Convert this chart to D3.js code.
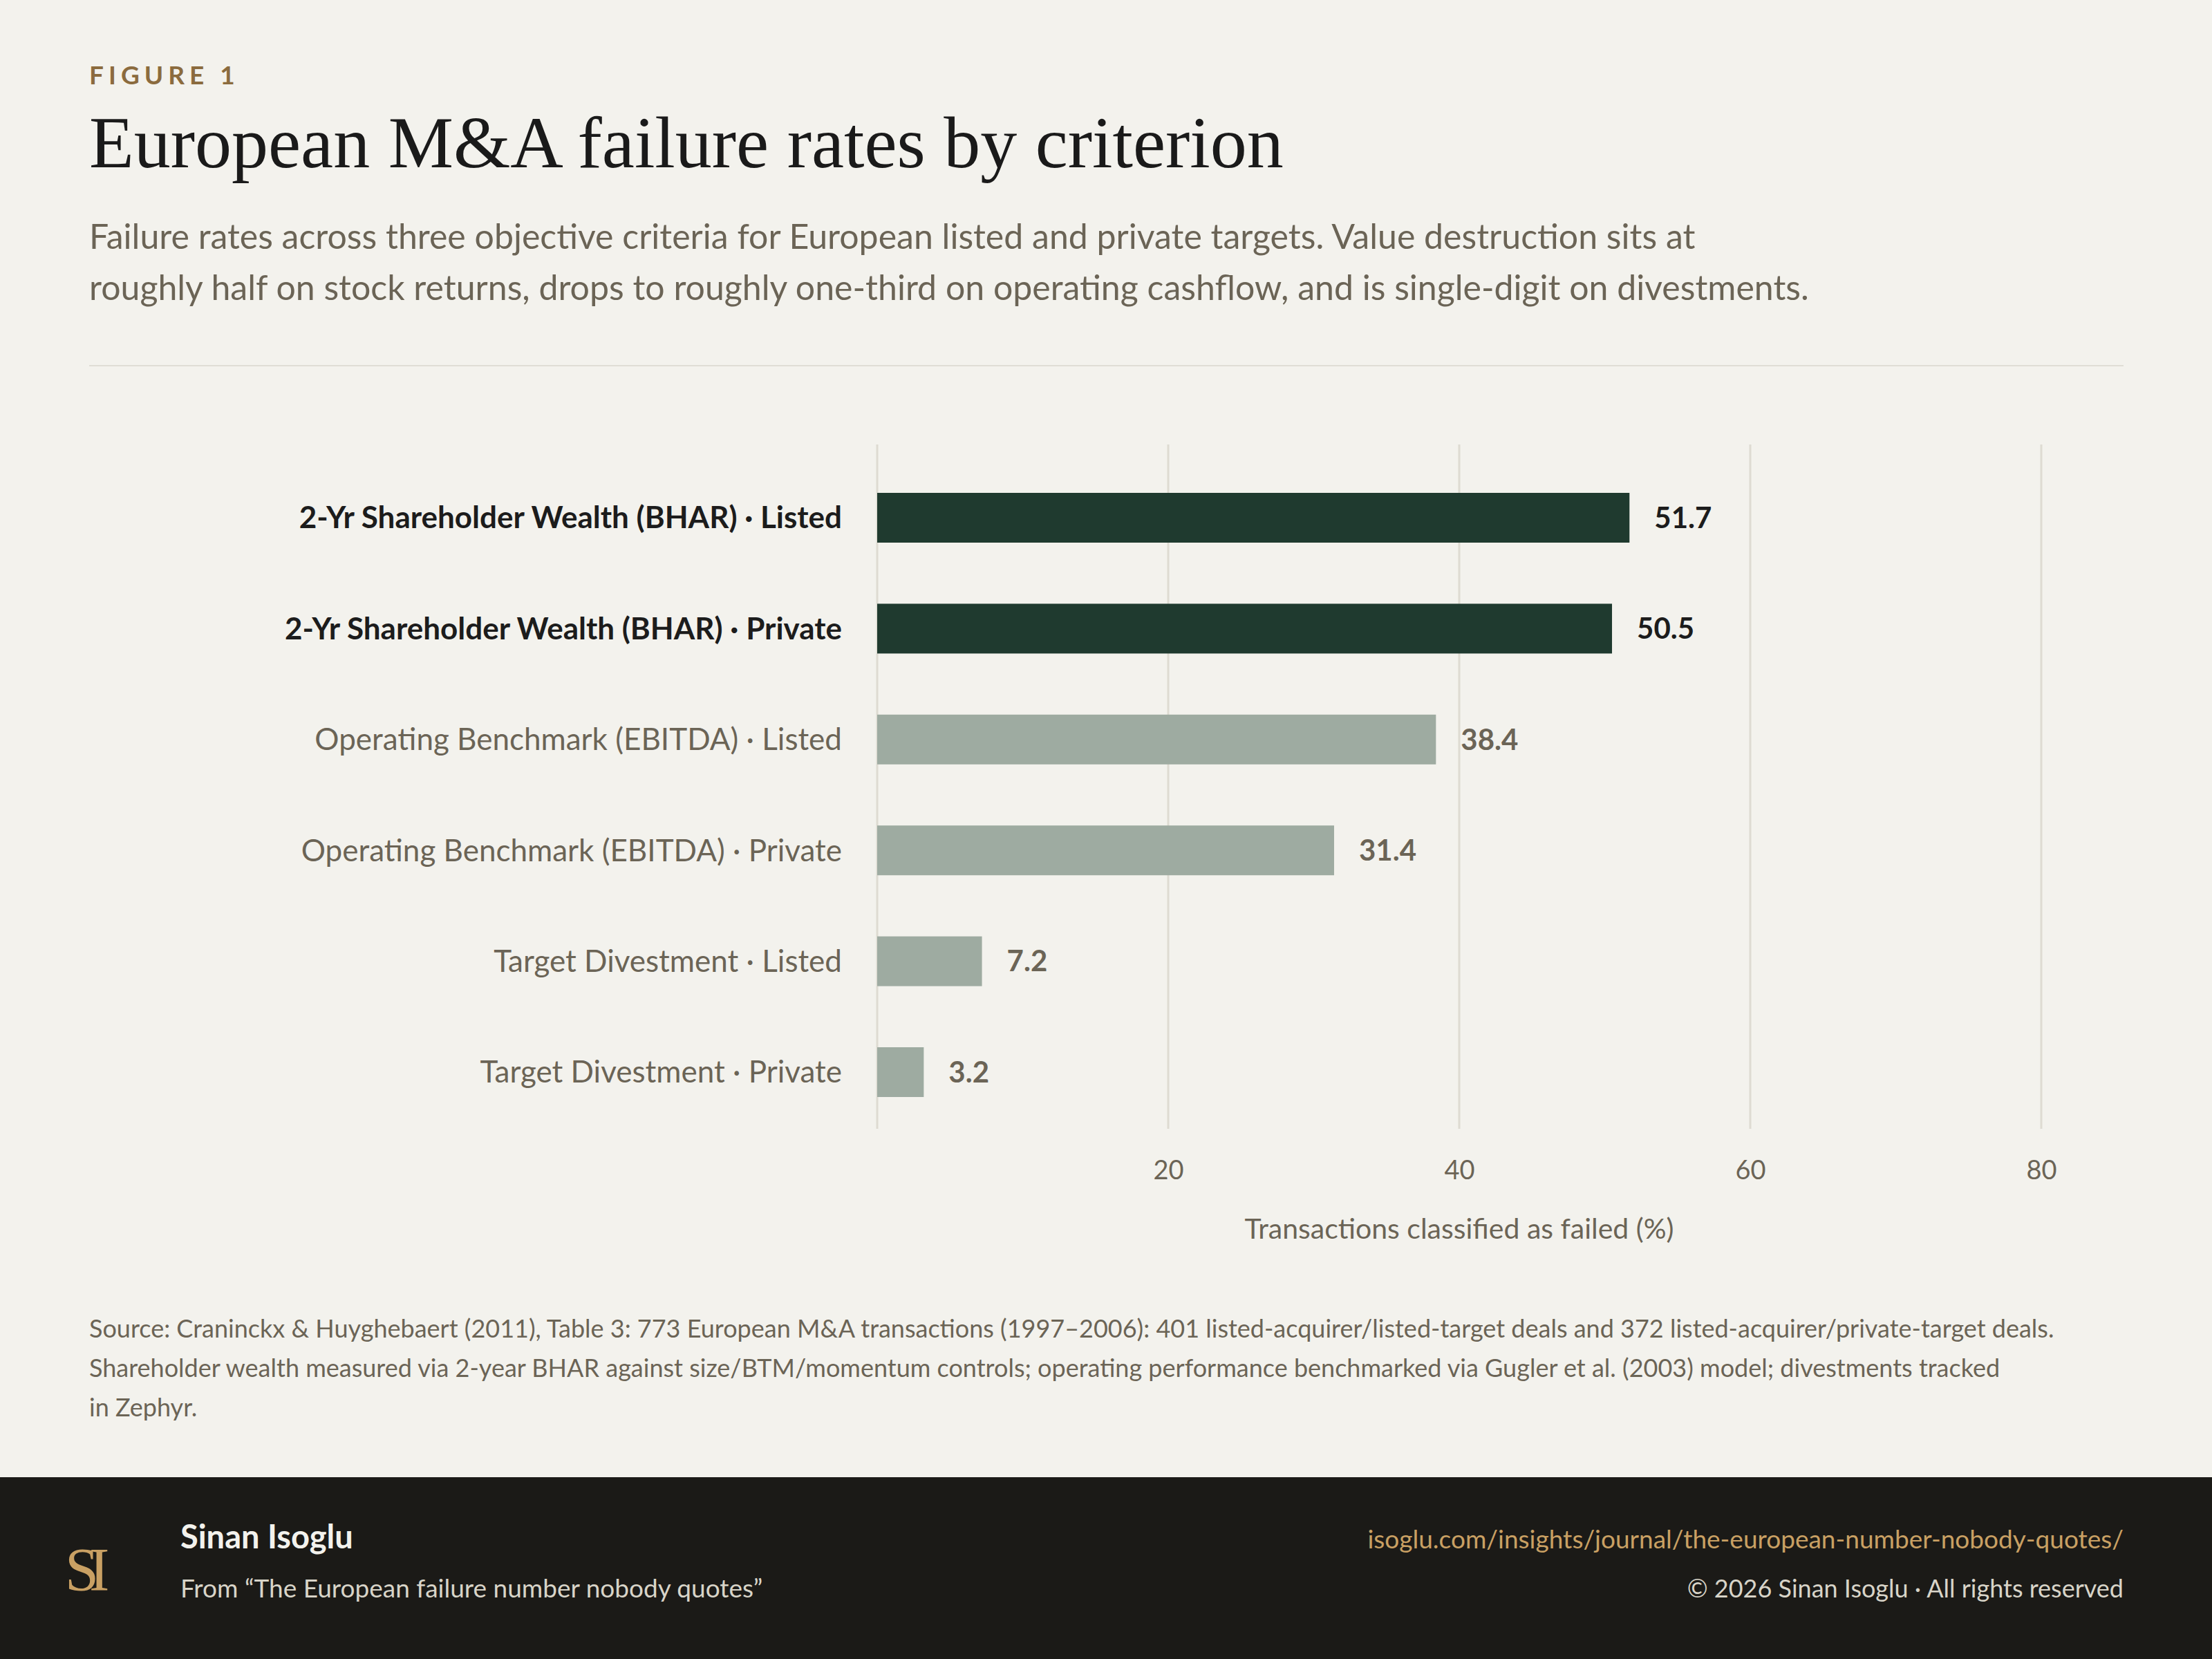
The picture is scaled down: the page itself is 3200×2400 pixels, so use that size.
<!DOCTYPE html>
<html><head><meta charset="utf-8">
<script src="https://cdn.jsdelivr.net/npm/d3@7"></script>
<style>html,body{margin:0;padding:0;background:#f3f2ed}</style>
</head><body>
<script>
const categories = ["2-Yr Shareholder Wealth (BHAR) · Listed","2-Yr Shareholder Wealth (BHAR) · Private","Operating Benchmark (EBITDA) · Listed","Operating Benchmark (EBITDA) · Private","Target Divestment · Listed","Target Divestment · Private"];
const values = [51.7, 50.5, 38.4, 31.4, 7.2, 3.2];
const highlight = [true, true, false, false, false, false];
const ticks = [20, 40, 60, 80];

const W=3200,H=2400, sans="Lato, 'Noto Sans', sans-serif", serif="'Liberation Serif', 'DejaVu Serif', serif";
const svg=d3.select("body").append("svg").attr("width",W).attr("height",H);
svg.append("rect").attr("width",W).attr("height",H).attr("fill","#f3f2ed");

svg.append("text").attr("x",129).attr("y",122).text("FIGURE 1").attr("font-family",sans).attr("font-size",37).attr("font-weight",700).attr("letter-spacing",7).attr("fill","#8b6b3e");
svg.append("text").attr("x",129).attr("y",242).text("European M&A failure rates by criterion").attr("font-family",serif).attr("font-size",106).attr("fill","#1a1a1a");
["Failure rates across three objective criteria for European listed and private targets. Value destruction sits at","roughly half on stock returns, drops to roughly one-third on operating cashflow, and is single-digit on divestments."].forEach((t,i)=>
 svg.append("text").attr("x",129).attr("y",360+i*74).text(t).attr("font-family",sans).attr("font-size",50).attr("fill","#6b6456"));
svg.append("line").attr("x1",129).attr("x2",3072).attr("y1",529).attr("y2",529).attr("stroke","#dfddd5").attr("stroke-width",2);

const x=d3.scaleLinear().domain([0,80]).range([1269,2953]);
const y=d3.scalePoint().domain(categories).range([749,1551]);
const bh=72;
const g=svg.append("g");
g.selectAll(".grid").data([0,...ticks]).join("line").attr("x1",d=>x(d)).attr("x2",d=>x(d)).attr("y1",643).attr("y2",1633).attr("stroke","#dedbd2").attr("stroke-width",3);
g.selectAll(".bar").data(categories).join("rect").attr("x",x(0)).attr("y",d=>y(d)-bh/2).attr("width",(d,i)=>x(values[i])-x(0)).attr("height",bh).attr("fill",(d,i)=>highlight[i]?"#1f3a2f":"#9eaba1");
g.selectAll(".val").data(categories).join("text").attr("x",(d,i)=>x(values[i])+36).attr("y",d=>y(d)).attr("dy","0.35em").text((d,i)=>values[i].toFixed(1)).attr("font-family",sans).attr("font-size",42).attr("font-weight",700).attr("fill",(d,i)=>highlight[i]?"#1c1c1c":"#6b6456");
g.selectAll(".lab").data(categories).join("text").attr("x",1218).attr("y",d=>y(d)).attr("dy","0.35em").attr("text-anchor","end").text(d=>d).attr("font-family",sans).attr("font-size",44).attr("font-weight",(d,i)=>highlight[i]?700:400).attr("fill",(d,i)=>highlight[i]?"#1c1c1c":"#6b6456");
const ax=svg.append("g").attr("transform","translate(0,1633)").call(d3.axisBottom(x).tickValues(ticks).tickSize(0).tickPadding(46));
ax.select(".domain").remove();
ax.selectAll("text").attr("font-family",sans).attr("font-size",38).attr("fill","#6b6456");
svg.append("text").attr("x",x(40)).attr("y",1792).attr("text-anchor","middle").text("Transactions classified as failed (%)").attr("font-family",sans).attr("font-size",41).attr("fill","#6b6456");

["Source: Craninckx & Huyghebaert (2011), Table 3: 773 European M&A transactions (1997–2006): 401 listed-acquirer/listed-target deals and 372 listed-acquirer/private-target deals.","Shareholder wealth measured via 2-year BHAR against size/BTM/momentum controls; operating performance benchmarked via Gugler et al. (2003) model; divestments tracked","in Zephyr."].forEach((t,i)=>
 svg.append("text").attr("x",129).attr("y",1935+i*57).text(t).attr("font-family",sans).attr("font-size",36).attr("fill","#6b6456"));

svg.append("rect").attr("y",2137).attr("width",W).attr("height",H-2137).attr("fill","#1b1a17");
svg.append("text").attr("x",94).attr("y",2300).text("SI").attr("letter-spacing",-14).attr("font-family",serif).attr("font-size",88).attr("fill","#c9a063");
svg.append("text").attr("x",261).attr("y",2240).text("Sinan Isoglu").attr("font-family",sans).attr("font-size",47).attr("font-weight",700).attr("fill","#f3f2ed");
svg.append("text").attr("x",261).attr("y",2311).text("From “The European failure number nobody quotes”").attr("font-family",sans).attr("font-size",37).attr("fill","#d8d4c8");
svg.append("text").attr("x",3072).attr("y",2240).attr("text-anchor","end").text("isoglu.com/insights/journal/the-european-number-nobody-quotes/").attr("font-family",sans).attr("font-size",37).attr("fill","#c9a063");
svg.append("text").attr("x",3072).attr("y",2311).attr("text-anchor","end").text("© 2026 Sinan Isoglu · All rights reserved").attr("font-family",sans).attr("font-size",36).attr("fill","#d8d4c8");
</script>
</body></html>
